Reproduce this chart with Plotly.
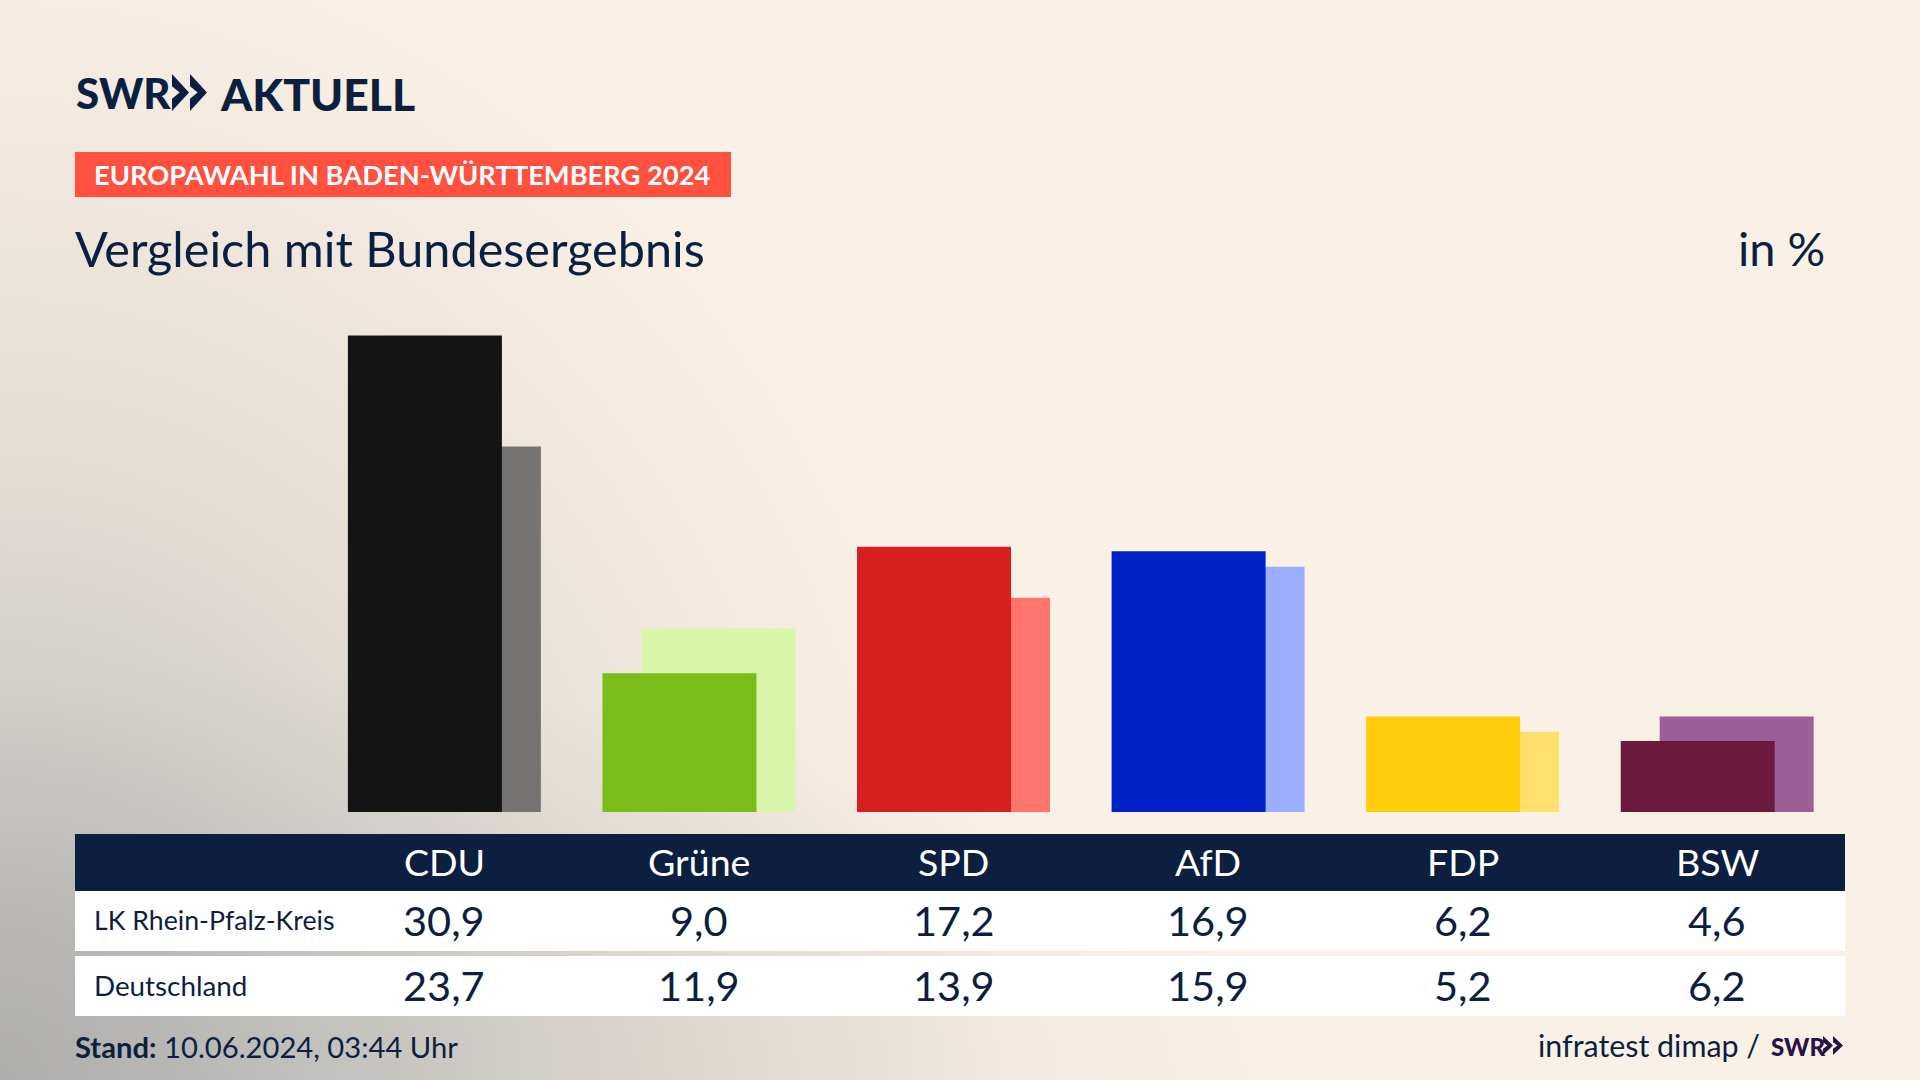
import plotly.graph_objects as go

parties = ['CDU', 'Grüne', 'SPD', 'AfD', 'FDP', 'BSW']
kreis = [30.9, 9.0, 17.2, 16.9, 6.2, 4.6]
deutschland = [23.7, 11.9, 13.9, 15.9, 5.2, 6.2]
kreis_colors = ['#141414', '#7ABD19', '#D81F1F', '#0021C8', '#FFCD0B', '#6B1A3E']
bund_colors = ['#747372', '#D7F6A9', '#FF756E', '#9CADFF', '#FFE06F', '#9C5F97']
row_names = ['LK Rhein-Pfalz-Kreis', 'Deutschland']

W, H = 1920, 1080
NAVY = '#0C1F3F'
FONT = 'Lato'


def px(x):
    return x / W


def py(y):
    return 1 - y / H


def chevrons(x0, y0, y1, w, gap, n=2):
    # the two arrows of the SWR logo, in pixels
    mid = (y0 + y1) / 2
    cut = (y1 - y0) * 0.33
    paths = []
    for i in range(n):
        x = x0 + i * (w + gap)
        pts = [(x, y0), (x + w, mid), (x, y1), (x, y1 - cut), (x + w * 0.45, mid), (x, y0 + cut)]
        p = 'M ' + ' L '.join(f'{px(a):.5f},{py(b):.5f}' for a, b in pts) + ' Z'
        paths.append(p)
    return paths


def rect(x0, y0, x1, y1, color):
    return dict(type='rect', xref='paper', yref='paper', x0=px(x0), x1=px(x1),
                y0=py(y1), y1=py(y0), fillcolor=color, line_width=0, layer='below')


def label(x, y, text, size, color=NAVY, anchor='left', xref='paper', **font):
    font = {'family': FONT, **font}
    return dict(x=px(x) if xref == 'paper' else x, y=py(y), xref=xref, yref='paper', text=text,
                showarrow=False, xanchor=anchor, yanchor='middle',
                font=dict(size=size, color=color, **font))


fig = go.Figure()
# Bundesergebnis sits behind and a bit to the right
fig.add_trace(go.Bar(x=parties, y=deutschland, name='Deutschland', width=0.605, offset=-0.226,
                     marker=dict(color=bund_colors, line_width=0), hoverinfo='skip'))
fig.add_trace(go.Bar(x=parties, y=kreis, name='LK Rhein-Pfalz-Kreis', width=0.605, offset=-0.379,
                     marker=dict(color=kreis_colors, line_width=0), hoverinfo='skip'))

shapes = [
    rect(75, 152, 731, 197, '#FF5040'),
    rect(75, 834, 1845, 891, NAVY),
    rect(75, 891, 1845, 951, 'white'),
    rect(75, 956, 1845, 1016, 'white'),
]
for p in chevrons(172, 74, 111, 17, 1):
    shapes.append(dict(type='path', xref='paper', yref='paper', path=p, fillcolor=NAVY, line_width=0))
for p in chevrons(1823, 1036, 1055, 10, 0):
    shapes.append(dict(type='path', xref='paper', yref='paper', path=p, fillcolor='#2A1147', line_width=0))

notes = [
    label(74, 93, 'SWR', 42, weight=900),
    label(218, 93, 'AKTUELL', 44.5, weight=900),
    label(92, 175, '<b>EUROPAWAHL IN BADEN-WÜRTTEMBERG 2024</b>', 27.3, color='white'),
    label(73, 248, 'Vergleich mit Bundesergebnis', 48.6),
    label(1827, 248, 'in %', 47, anchor='right'),
    label(73, 1046, '<b>Stand:</b> 10.06.2024, 03:44 Uhr', 29.2),
    label(1762, 1045, 'infratest dimap /', 30.4, anchor='right'),
    label(1769, 1046, 'SWR', 24, color='#2A1147', weight=900),
    label(92, 920, row_names[0], 26.7),
    label(92, 985, row_names[1], 27.8),
]
for party, a, b in zip(parties, kreis, deutschland):
    notes.append(label(party, 861, party, 37.5, color='white', anchor='center', xref='x'))
    notes.append(label(party, 920, f'{a:.1f}'.replace('.', ','), 41.5, anchor='center', xref='x'))
    notes.append(label(party, 985, f'{b:.1f}'.replace('.', ','), 41.5, anchor='center', xref='x'))

fig.update_layout(
    width=W, height=H, autosize=False,
    margin=dict(l=0, r=0, t=0, b=0),
    paper_bgcolor='rgba(0,0,0,0)', plot_bgcolor='rgba(0,0,0,0)',
    barmode='overlay', showlegend=False, hovermode=False,
    shapes=shapes, annotations=notes,
    xaxis=dict(domain=[px(75), px(1845)], range=[-1.451, 5.502], visible=False, fixedrange=True,
               categoryorder='array', categoryarray=parties),
    yaxis=dict(domain=[py(812), py(300)], range=[0, 33.2], visible=False, fixedrange=True),
)

# paper gets its warm gradient from the page itself: one glow along the bottom, one up the left side
bg = ("document.body.style.margin='0';document.body.style.overflow='hidden';"
      "document.body.style.background='"
      "radial-gradient(ellipse 1300px 420px at 0px 1080px,rgba(169,169,168,.5) 0%,rgba(169,169,168,0) 100%),"
      "radial-gradient(ellipse 1000px 1180px at 0px 1080px,"
      "#b3b2b0 0%,#d2cfca 32%,#e8e1d8 60%,#faf1e6 100%),#faf1e6';")
fig.write_html("out.html", config={'displayModeBar': False}, post_script=bg)
